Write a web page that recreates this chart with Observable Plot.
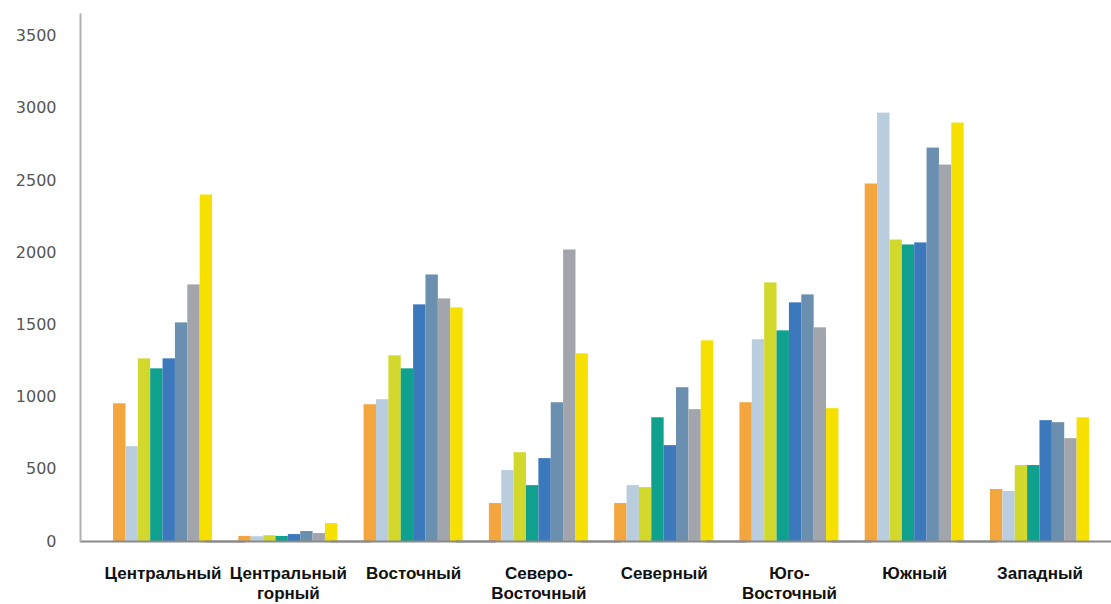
<!DOCTYPE html>
<html>
<head>
<meta charset="utf-8">
<script src="https://cdn.jsdelivr.net/npm/d3@7"></script>
<script src="https://cdn.jsdelivr.net/npm/@observablehq/plot@0.6"></script>
<style>
  html, body { margin: 0; padding: 0; background: #fff; }
  #chart { width: 1111px; height: 604px; }
</style>
</head>
<body>
<div id="chart"></div>
<script>
// Categories (regions) and their display labels
const regions = ["Центральный", "Центральный горный", "Восточный", "Северо-Восточный", "Северный", "Юго-Восточный", "Южный", "Западный"];
const regionLabels = ["Центральный", "Центральный\nгорный", "Восточный", "Северо-\nВосточный", "Северный", "Юго-\nВосточный", "Южный", "Западный"];

// Series values, one per region (8 series per group)
const s1 = [954, 35, 947, 263, 263, 961, 2476, 360];
const s2 = [657, 33, 982, 491, 387, 1397, 2967, 346];
const s3 = [1265, 40, 1286, 615, 373, 1791, 2088, 526];
const s4 = [1196, 35, 1196, 387, 857, 1459, 2054, 526];
const s5 = [1265, 48, 1639, 574, 664, 1653, 2068, 837];
const s6 = [1514, 69, 1846, 961, 1065, 1708, 2725, 823];
const s7 = [1777, 55, 1680, 2019, 913, 1480, 2607, 712];
const s8 = [2400, 124, 1618, 1300, 1390, 920, 2898, 857];

const seriesKeys = ["s1", "s2", "s3", "s4", "s5", "s6", "s7", "s8"];
const seriesValues = [s1, s2, s3, s4, s5, s6, s7, s8];
const seriesColors = ["#F3A63E", "#B9CDDE", "#D3D92C", "#10A18E", "#3B78BC", "#6B8FAF", "#A3A5AD", "#F6E000"];

const yTicks = [0, 500, 1000, 1500, 2000, 2500, 3000, 3500];

const data = [];
regions.forEach((r, i) => {
  seriesKeys.forEach((k, j) => {
    data.push({region: r, series: k, value: seriesValues[j][i]});
  });
});

const labelOf = new Map(regions.map((r, i) => [r, regionLabels[i]]));

const W = 1111, ML = 80, MR = 0;
const fxOpts = {paddingInner: 0.21, paddingOuter: 0.22, align: 0.6};
// mirror of the facet band scale, to know how far the first/last facet sit from the frame edges
const band = d3.scaleBand().domain(regions).range([ML, W - MR])
  .paddingInner(fxOpts.paddingInner).paddingOuter(fxOpts.paddingOuter).align(fxOpts.align);
const offLeft = band(regions[0]) - ML;
const offRight = (W - MR) - (band(regions[regions.length - 1]) + band.bandwidth());

const chart = Plot.plot({
  width: W,
  height: 604,
  marginLeft: ML,
  marginRight: MR,
  marginTop: 14,
  marginBottom: 63,
  style: {background: "#fff"},
  fx: {domain: regions, ...fxOpts, round: false, label: null, axis: null},
  x: {domain: seriesKeys, padding: 0, round: false, axis: null},
  y: {domain: [0, 3650], axis: null},
  color: {domain: seriesKeys, range: seriesColors},
  marks: [
    Plot.barY(data, {fx: "region", x: "series", y: "value", fill: "series"}),
    Plot.ruleY([0], {stroke: "#8a8a8a", strokeWidth: 2, insetLeft: -offLeft, insetRight: -Math.max(offLeft, offRight)}),
    Plot.frame({anchor: "left", facetAnchor: "left", dx: -offLeft, stroke: "#b0b0b0", strokeWidth: 2}),
    Plot.axisFx({
      anchor: "bottom",
      tickFormat: d => labelOf.get(d),
      tickSize: 0,
      tickPadding: 23,
      lineHeight: 1.2,
      fontSize: 17,
      fontWeight: "bold",
      fontFamily: "Liberation Sans, Arial, sans-serif",
      fill: "#111",
      label: null
    }),
    Plot.axisY(yTicks, {
      tickSize: 0,
      tickPadding: 24,
      dx: -offLeft,
      tickFormat: d => String(d),
      fontSize: 16,
      fontFamily: "DejaVu Sans, sans-serif",
      fill: "#555",
      label: null
    })
  ]
});

document.getElementById("chart").appendChild(chart);
</script>
</body>
</html>
